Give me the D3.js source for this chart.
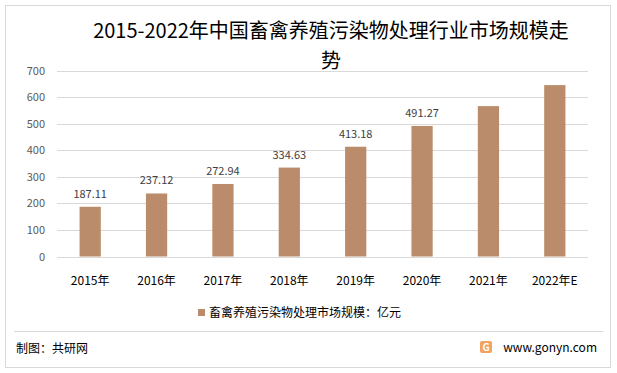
<!DOCTYPE html>
<html>
<head>
<meta charset="utf-8">
<script src="https://cdn.jsdelivr.net/npm/d3@7"></script>
<style>
body { margin: 0; background: #fff; }
text { font-family: "Noto Sans CJK SC", "Noto Sans", sans-serif; }
</style>
</head>
<body>
<div id="chart"></div>
<script>
// market size data, 100 million yuan
var years = ["2015年", "2016年", "2017年", "2018年", "2019年", "2020年", "2021年", "2022年E"];
var values = [187.11, 237.12, 272.94, 334.63, 413.18, 491.27, 566, 645];
var showLabel = [true, true, true, true, true, true, false, false];
var yTicks = [0, 100, 200, 300, 400, 500, 600, 700];
var seriesName = "畜禽养殖污染物处理市场规模：亿元";

var width = 617, height = 373;
var plotL = 57, plotR = 588, plotT = 70.5, plotB = 256.5;
var barColor = "#bb8c6b";

var svg = d3.select("#chart").append("svg")
	.attr("width", width)
	.attr("height", height);

// frame
svg.append("rect")
	.attr("x", 5.5).attr("y", 5.5)
	.attr("width", 605).attr("height", 362)
	.attr("fill", "none")
	.attr("stroke", "#d9d9d9");

var x = d3.scaleBand().domain(years).range([plotL, plotR]).paddingInner(0.68).paddingOuter(0.34);
var y = d3.scaleLinear().domain([0, 700]).range([plotB, plotT]);

// title
svg.append("text")
	.attr("x", 331).attr("y", 38)
	.attr("text-anchor", "middle")
	.attr("font-size", 20)
	.attr("fill", "#000")
	.text("2015-2022年中国畜禽养殖污染物处理行业市场规模走");
svg.append("text")
	.attr("x", 331).attr("y", 68)
	.attr("text-anchor", "middle")
	.attr("font-size", 20)
	.attr("fill", "#000")
	.text("势");

// grid
svg.selectAll("line.grid").data(yTicks).enter().append("line")
	.attr("class", "grid")
	.attr("x1", plotL).attr("x2", plotR)
	.attr("y1", function(d){return Math.round(y(d)) + 0.5})
	.attr("y2", function(d){return Math.round(y(d)) + 0.5})
	.attr("stroke", "#d9d9d9")
	.attr("stroke-width", 1);

svg.selectAll("text.ytick").data(yTicks).enter().append("text")
	.attr("class", "ytick")
	.attr("x", 45)
	.attr("y", function(d){return y(d) + 4})
	.attr("text-anchor", "end")
	.attr("font-size", 11)
	.attr("fill", "#595959")
	.text(function(d){return d});

// bars
svg.selectAll("rect.bar").data(values).enter().append("rect")
	.attr("class", "bar")
	.attr("x", function(d, i){return x(years[i])})
	.attr("y", function(d){return y(d)})
	.attr("width", x.bandwidth())
	.attr("height", function(d){return y(0) - y(d)})
	.attr("fill", barColor);

svg.selectAll("text.val").data(values).enter().append("text")
	.filter(function(d, i){return showLabel[i]})
	.attr("class", "val")
	.attr("x", function(d){return x(years[values.indexOf(d)]) + x.bandwidth()/2})
	.attr("y", function(d){return y(d) - 9})
	.attr("text-anchor", "middle")
	.attr("font-size", 11)
	.attr("fill", "#404040")
	.text(function(d){return d.toFixed(2)});

// category labels
svg.selectAll("text.cat").data(years).enter().append("text")
	.attr("class", "cat")
	.attr("x", function(d){return x(d) + x.bandwidth()/2})
	.attr("y", 285)
	.attr("text-anchor", "middle")
	.attr("font-size", 12)
	.attr("fill", "#000")
	.text(function(d){return d});

// legend
svg.append("rect")
	.attr("x", 198).attr("y", 309)
	.attr("width", 7).attr("height", 7)
	.attr("fill", barColor);
svg.append("text")
	.attr("x", 209).attr("y", 317)
	.attr("font-size", 12)
	.attr("fill", "#000")
	.text(seriesName);

// footer
svg.append("line")
	.attr("x1", 14).attr("x2", 603)
	.attr("y1", 331.5).attr("y2", 331.5)
	.attr("stroke", "#d9d9d9");
svg.append("text")
	.attr("x", 16).attr("y", 353)
	.attr("font-size", 12)
	.attr("fill", "#000")
	.text("制图：共研网");

var logo = svg.append("g").attr("transform", "translate(480,341)");
logo.append("rect")
	.attr("width", 12).attr("height", 12).attr("rx", 2)
	.attr("fill", "#f4a261");
logo.append("text")
	.attr("x", 6).attr("y", 10)
	.attr("text-anchor", "middle")
	.attr("font-size", 10)
	.attr("font-weight", "bold")
	.attr("fill", "#fff")
	.text("G");
svg.append("text")
	.attr("x", 597).attr("y", 352)
	.attr("text-anchor", "end")
	.attr("font-size", 12)
	.attr("fill", "#000")
	.text("www.gonyn.com");
</script>
</body>
</html>
